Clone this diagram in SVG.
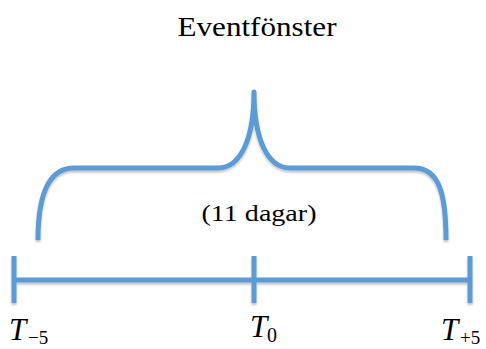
<svg xmlns="http://www.w3.org/2000/svg" width="486" height="349" viewBox="0 0 486 349">
<style>
.ln{fill:none;stroke:#5b9bd5;stroke-width:5;stroke-linecap:butt;stroke-linejoin:round}
.t{font-family:"Liberation Serif",serif;fill:#000}
.m{font-family:"Liberation Serif",serif;font-style:italic;fill:#000}
.s{font-family:"Liberation Serif",serif;fill:#000}
</style>
<defs>
<filter id="sh" x="-10%" y="-10%" width="120%" height="130%">
<feGaussianBlur in="SourceAlpha" stdDeviation="1.2"/>
<feOffset dx="0" dy="2" result="b"/>
<feComponentTransfer><feFuncA type="linear" slope="0.25"/></feComponentTransfer>
<feMerge><feMergeNode/><feMergeNode in="SourceGraphic"/></feMerge>
</filter>
</defs>
<g id="title"><text class="t" x="257" y="36" font-size="28" text-anchor="middle" textLength="159" lengthAdjust="spacingAndGlyphs">Eventfönster</text></g>
<g id="connectors" filter="url(#sh)">
<path id="brace" class="ln" d="M38,240 C38,196 48,168 74,168 L218,168 C240,168 254,140 254,92 C254,140 268,168 290,168 L414,168 C440,168 446,196 446,240"/>
<path id="axis" class="ln" d="M14,280 L470,280 M14,256 L14,303 M254,256 L254,303 M470,256 L470,303"/>
</g>
<g id="duration"><text class="t" x="259" y="221" font-size="24" text-anchor="middle" textLength="115" lengthAdjust="spacingAndGlyphs">(11 dagar)</text></g>
<g id="t-5"><text class="m" x="9" y="340" font-size="31">T</text><text class="s" x="28" y="344" font-size="19">−5</text></g>
<g id="t0"><text class="m" x="250" y="337" font-size="31">T</text><text class="s" x="267" y="342" font-size="20">0</text></g>
<g id="t+5"><text class="m" x="441" y="340" font-size="31">T</text><text class="s" x="460" y="344" font-size="19">+5</text></g>
</svg>
